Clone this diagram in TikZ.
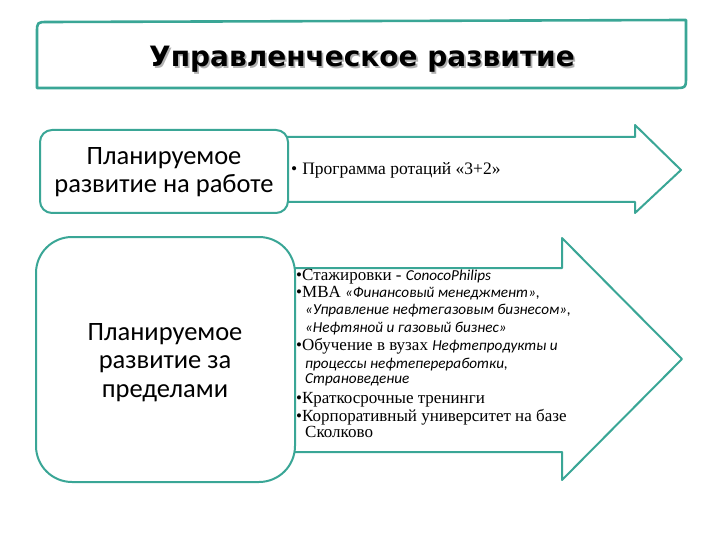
\documentclass[tikz,border=0pt]{standalone}
\usepackage{fontspec}
\setmainfont{Liberation Serif}
\newfontfamily\boxfont{Carlito}
\newfontfamily\itfont{Carlito}[UprightFont=* Italic]
\newfontfamily\titlefont{DejaVu Sans}
\definecolor{teal1}{RGB}{58,166,150}
\tikzset{
  frame/.style={draw=teal1, line width=2pt, fill=white, line join=round},
  boxtext/.style={font=\boxfont\fontsize{26.5}{28.5}\selectfont, align=center, text=black},
  listline/.style={anchor=base west, inner sep=0pt, font=\fontsize{17}{18}\selectfont},
}
\newcommand{\itx}[1]{{\itfont\fontsize{15.2}{17}\selectfont #1}}
\newcommand{\shadowtext}[1]{\rlap{\kern1.8pt\raisebox{-1.8pt}{\color{black!30}#1}}#1}
\begin{document}
\begin{tikzpicture}[x=1pt,y=-1pt]
\useasboundingbox (0,0) rectangle (720,540);
% title box
\draw[frame, line width=2.6pt] (37,88) -- (37,33) .. controls (37,22) .. (48,22) -- (686,20) -- (686,76) .. controls (686,88) .. (674,88) -- cycle;
\node[font=\titlefont\bfseries\fontsize{28}{32}\selectfont, anchor=base] (title) at (362,67) {\shadowtext{Управленческое развитие}};
% arrow 1
\draw[frame] (285,137) -- (635,137) -- (635,125) -- (681,170) -- (635,213) -- (635,202) -- (285,202) -- cycle;
% box 1
\draw[frame, rounded corners=12pt] (40,130) rectangle (288,213);
\node[boxtext, anchor=base] (b1a) at (164,165) {Планируемое};
\node[boxtext, anchor=base] (b1b) at (164,193) {развитие на работе};
\node[anchor=base west, inner sep=0pt, font=\fontsize{17.5}{18}\selectfont] (a1) at (291,175) {•\hspace{5pt}Программа ротаций «3+2»};
% arrow 2
\draw[frame] (290,268) -- (562,268) -- (562,238) -- (682,359) -- (562,480) -- (562,452) -- (290,452) -- cycle;
% box 2
\draw[frame, rounded corners=36pt] (36,237) rectangle (295,482);
\node[boxtext, anchor=base] (b2a) at (165,340) {Планируемое};
\node[boxtext, anchor=base] (b2b) at (165,368.5) {развитие за};
\node[boxtext, anchor=base] (b2c) at (165,397) {пределами};
% list
\node[listline] (l1) at (296,280) {•Стажировки - \itx{ConocoPhilips}};
\node[listline] (l2) at (296,297) {•MBA \itx{«Финансовый менеджмент»,}};
\node[listline] (l3) at (305,314) {\itx{«Управление нефтегазовым бизнесом»,}};
\node[listline] (l4) at (305,332) {\itx{«Нефтяной и газовый бизнес»}};
\node[listline] (l5) at (296,350) {•Обучение в вузах \itx{Нефтепродукты и}};
\node[listline] (l6) at (305,368) {\itx{процессы нефтепереработки,}};
\node[listline] (l7) at (305,383) {\itx{Страноведение}};
\node[listline] (l8) at (296,403) {•Краткосрочные тренинги};
\node[listline] (l9) at (296,421) {•Корпоративный университет на базе};
\node[listline] (l10) at (305,437) {Сколково};
\end{tikzpicture}
\end{document}
